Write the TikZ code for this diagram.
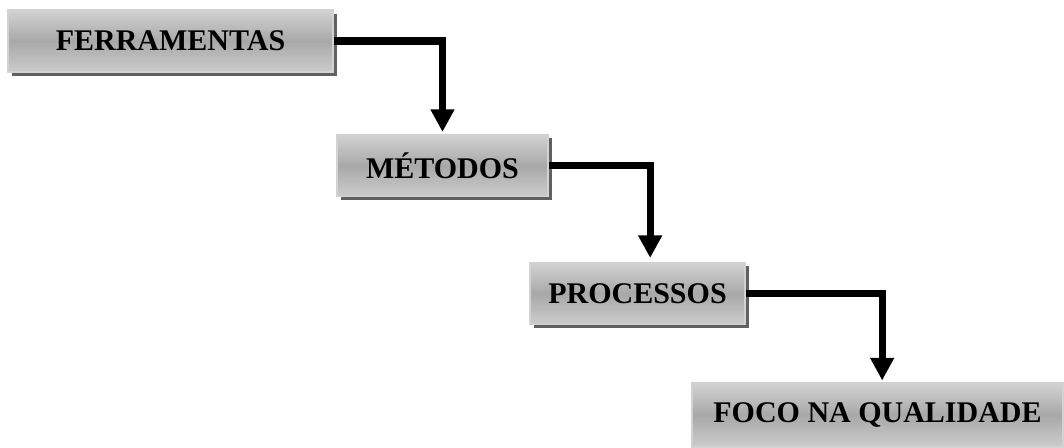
\documentclass[tikz,border=0pt]{standalone}
\usepackage{fontspec}
\setmainfont{Liberation Serif}
\usetikzlibrary{arrows.meta,shadows}
\begin{document}
\begin{tikzpicture}[
    x = 0.75pt,
    y = -0.75pt,
    >={Triangle[width=17pt,length=17pt]},
    stage/.style = {rectangle, draw=gray!35, line width=0.8pt,
    top color=gray!35, bottom color=gray!40, middle color=gray!68,
    inner sep=0pt, minimum height=46.5pt,
    font=\bfseries\fontsize{22.5}{26}\selectfont,
    drop shadow={shadow xshift=3pt, shadow yshift=-3pt,
    fill=black!62, opacity=1}},
    flow/.style = {->, line width=5.5pt},
]
\useasboundingbox (0,0) rectangle (1064,448);

\node[stage, minimum width=243.75pt] (ferr) at (170.5,41){FERRAMENTAS};
\node[stage, minimum width=158.25pt] (met) at (442.5,165.5){MÉTODOS};
\node[stage, minimum width=161.25pt] (proc) at (637.5,293.5){PROCESSOS};
\node[stage, minimum width=278.25pt, minimum height=48pt] (foco) at (877.5,415){FOCO NA QUALIDADE};

\draw [flow] (ferr.east) -| ([yshift=1.5pt]met.north);
\draw [flow] (met.east) -| ([xshift=9.5pt,yshift=3pt]proc.north);
\draw [flow] (proc.east) -| ([xshift=3.5pt,yshift=1.5pt]foco.north);
\end{tikzpicture}
\end{document}
